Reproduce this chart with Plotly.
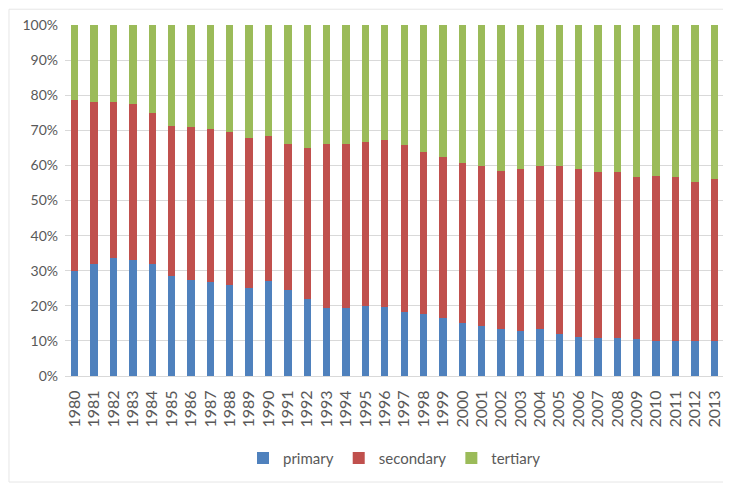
import plotly.graph_objects as go

years = [str(y) for y in range(1980, 2014)]
primary = [30.0, 32.0, 33.5, 33.1, 32.0, 28.5, 27.3, 26.9, 25.8, 25.0, 27.0, 24.5, 21.9, 19.5, 19.5, 20.0, 19.6,
           18.1, 17.6, 16.5, 15.0, 14.3, 13.5, 12.8, 13.5, 11.9, 11.2, 10.7, 10.7, 10.5, 10.0, 10.0, 10.0, 10.0]
secondary = [48.5, 46.0, 44.5, 44.5, 42.9, 42.6, 43.5, 43.5, 43.8, 42.7, 41.5, 41.7, 43.1, 46.7, 46.7, 46.8, 47.7,
             47.7, 46.2, 45.9, 45.8, 45.4, 45.0, 46.2, 46.2, 47.8, 47.7, 47.4, 47.4, 46.1, 47.0, 46.6, 45.4, 46.2]
tertiary = [21.5, 22.0, 22.0, 22.4, 25.1, 28.9, 29.2, 29.6, 30.4, 32.3, 31.5, 33.8, 35.0, 33.8, 33.8, 33.2, 32.7,
            34.2, 36.2, 37.6, 39.2, 40.3, 41.5, 41.0, 40.3, 40.3, 41.1, 41.9, 41.9, 43.4, 43.0, 43.4, 44.6, 43.8]
y_ticks = [0, 10, 20, 30, 40, 50, 60, 70, 80, 90, 100]

series = [("primary", primary, "#4f81bd"), ("secondary", secondary, "#c0504d"), ("tertiary", tertiary, "#9bbb59")]

fig = go.Figure()
for name, vals, col in series:
    fig.add_trace(go.Bar(x=years, y=vals, name=name, marker=dict(color=col, line=dict(width=0))))

fig.update_layout(
    barmode="stack",
    bargap=0.62,
    width=723, height=476,
    margin=dict(l=57, r=7, t=17, b=108),
    paper_bgcolor="white", plot_bgcolor="white",
    font=dict(family="Lato, Open Sans, sans-serif", color="#595959", size=14),
    legend=dict(orientation="h", x=0.5, xanchor="center", y=-0.234, yanchor="middle",
                font=dict(size=15, color="#595959"), traceorder="normal", itemwidth=30),
    xaxis=dict(tickangle=-90, tickfont=dict(size=16), showgrid=False, showline=True,
               linecolor="#d9d9d9", ticks="", ticklabelstandoff=7),
    yaxis=dict(range=[0, 100], tickvals=y_ticks, ticktext=[f"{v}%" for v in y_ticks],
               showgrid=True, gridcolor="#d9d9d9", gridwidth=1, zeroline=False,
               showline=False, ticks="", tickfont=dict(size=14), ticklabelstandoff=6),
    shapes=[dict(type="rect", xref="paper", yref="paper", x0=-0.085, x1=1.008, y0=-0.302, y1=1.045,
                 line=dict(color="#e6e6e6", width=1), layer="below")],
)

fig.write_html("out.html")
